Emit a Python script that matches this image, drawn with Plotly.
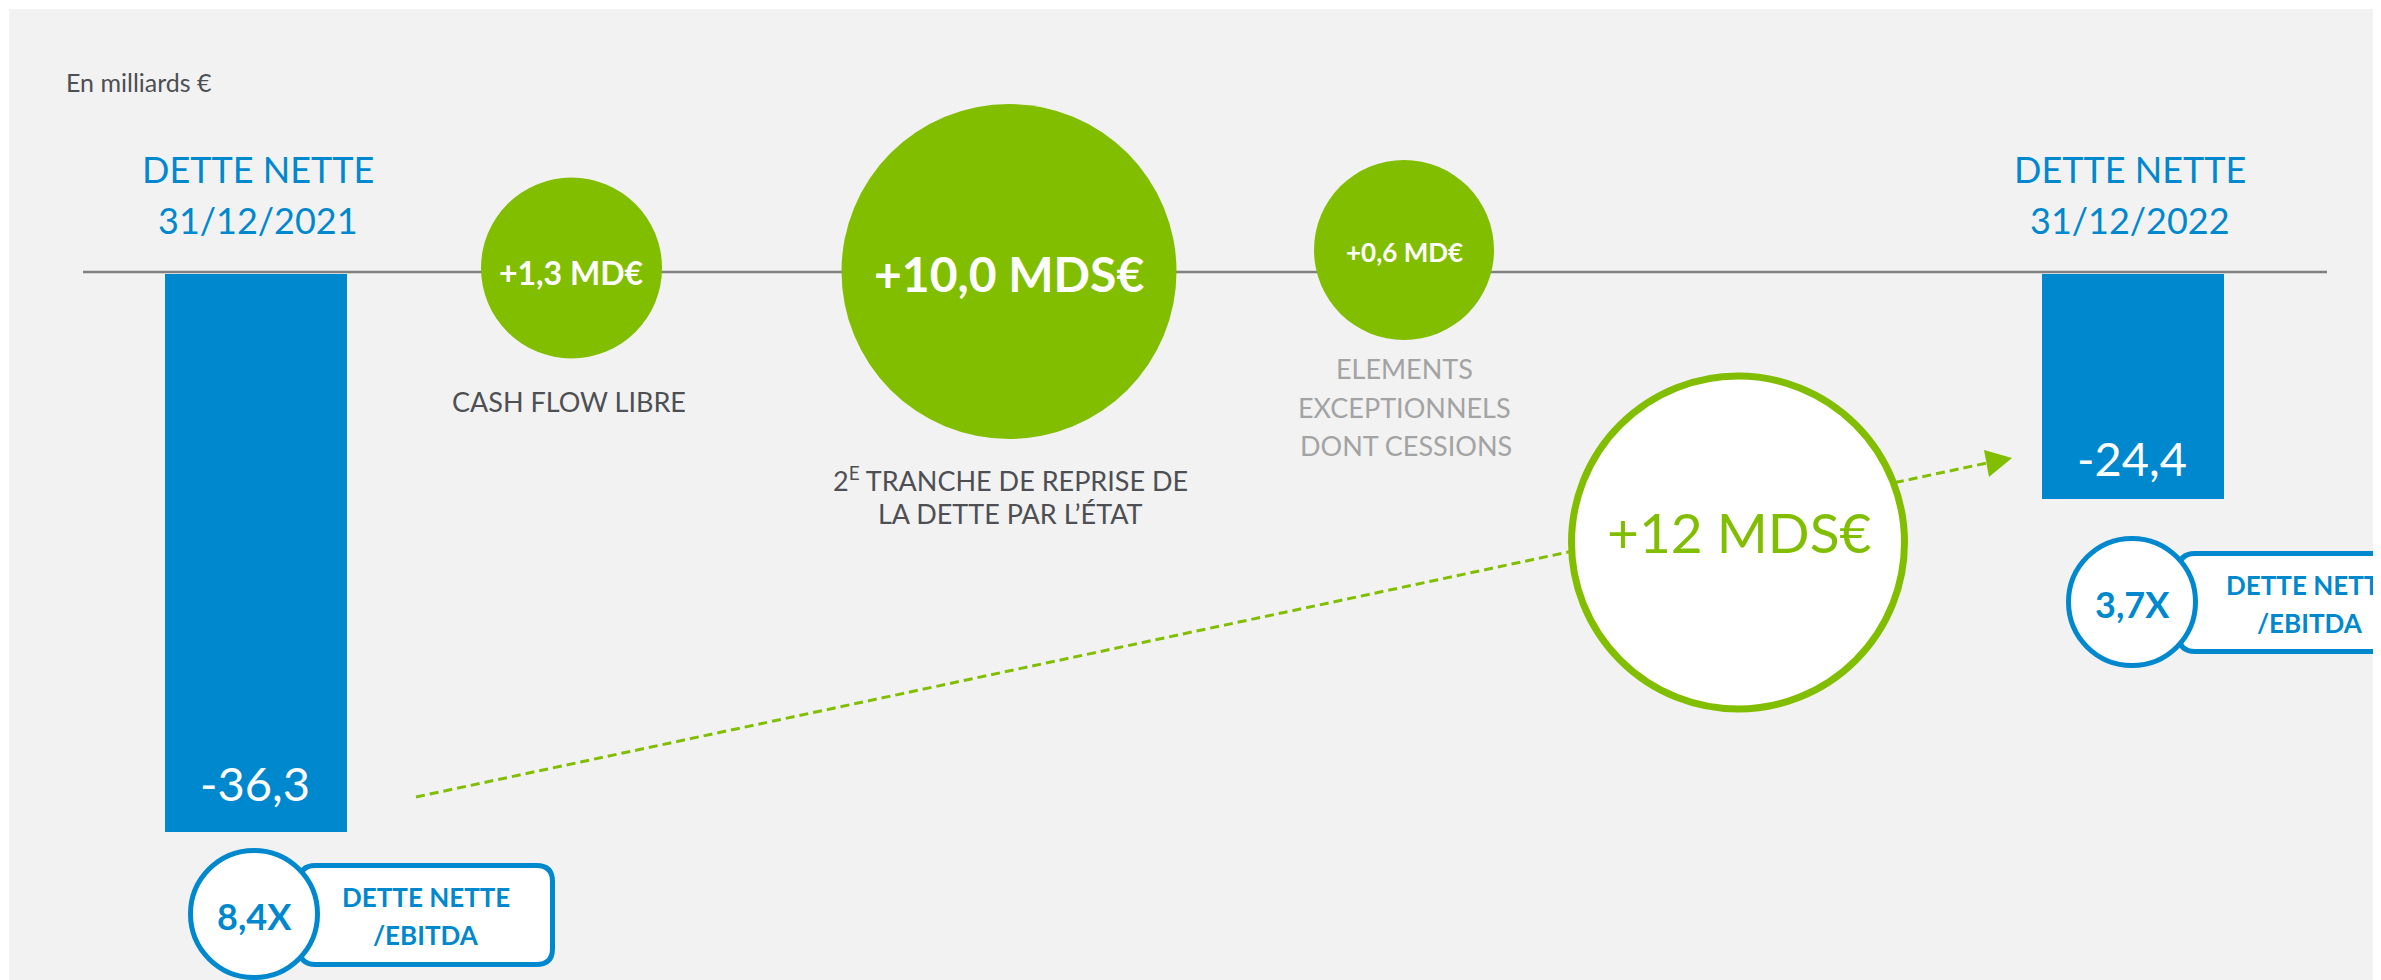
import plotly.graph_objects as go

# ---------------- data ----------------
unit_note = "En milliards €"
debt_title = "DETTE NETTE"
debt_dates = ["31/12/2021", "31/12/2022"]
net_debt = [-36.3, -24.4]                      # milliards €
flow_values = [1.3, 10.0, 0.6]                 # milliards €
flow_units = ["MD€", "MDS€", "MD€"]
flow_captions = [
    ["CASH FLOW LIBRE"],
    ["2<sup>E</sup> TRANCHE DE REPRISE DE", "LA DETTE PAR L’ÉTAT"],
    ["ELEMENTS", "EXCEPTIONNELS", "DONT CESSIONS"],
]
total_reduction = 12
total_unit = "MDS€"
ratio_values = [8.4, 3.7]
ratio_label = ["DETTE NETTE", "/EBITDA"]


def fr(v, d=1):
    return f"{v:.{d}f}".replace(".", ",")


# ---------------- style / layout ----------------
W, H = 2381, 980
PAGE_MARGIN = 8          # default body margin of the html page
BLUE = "#0088CE"
GREEN = "#82BE00"
DARK = "#4D4F53"
LIGHT = "#A3A3A3"
BG = "#F2F2F2"
FONT = "Lato"

bar_x = [256, 2133]
bar_w = 182
bar_label_y = [783, 458]
header_x = [258, 2130]
header_y, date_y = 168.5, 220

bub_x = [571.5, 1009, 1404]
bub_y = [268, 271.5, 250]
bub_size = [181, 335, 180]
bub_font = [32, 48, 26]
cap_pos = [[(569, 401)], [(1010, 479), (1010, 513)],
           [(1404, 368), (1404, 407), (1406, 445)]]
cap_col = [DARK, DARK, LIGHT]

tot_x, tot_y, tot_size = 1738, 542.5, 333

badge_c = [(254, 914), (2132, 602)]
badge_rect = [(299.5, 552.5, 865.5, 964.5), (2179, 2420, 553.5, 651.5)]
badge_text_x = [426, 2310]

fig = go.Figure()

# bars (each on its own scale, as in the original infographic)
fig.add_trace(go.Bar(x=[bar_x[0]], y=[net_debt[0]], width=bar_w,
                     marker=dict(color=BLUE, line=dict(width=0)),
                     yaxis="y", hoverinfo="skip"))
fig.add_trace(go.Bar(x=[bar_x[1]], y=[net_debt[1]], width=bar_w,
                     marker=dict(color=BLUE, line=dict(width=0)),
                     yaxis="y2", hoverinfo="skip"))

# green bubbles
fig.add_trace(go.Scatter(x=bub_x, y=bub_y, mode="markers", yaxis="y3",
                         marker=dict(size=bub_size, color=GREEN, opacity=1,
                                     line=dict(width=0)),
                         hoverinfo="skip"))
# total circle
fig.add_trace(go.Scatter(x=[tot_x], y=[tot_y], mode="markers", yaxis="y3",
                         marker=dict(size=tot_size, color="white", opacity=1,
                                     line=dict(width=7, color=GREEN)),
                         hoverinfo="skip"))

shapes = []
# baseline
shapes.append(dict(type="line", xref="x", yref="y3", x0=83, x1=2327,
                   y0=272, y1=272, line=dict(color="#808080", width=2.5),
                   layer="below"))
# dashed arrow line
shapes.append(dict(type="line", xref="x", yref="y3", x0=416, y0=797,
                   x1=1987, y1=463, line=dict(color=GREEN, width=3,
                                              dash="9px,5px"),
                   layer="below"))
shapes.append(dict(type="path", xref="x", yref="y3",
                   path="M 1984 450 L 2012 458 L 1989 477 Z",
                   fillcolor=GREEN, line=dict(width=0)))


def rounded(x0, x1, y0, y1, r):
    return (f"M {x0+r} {y0} L {x1-r} {y0} Q {x1} {y0} {x1} {y0+r} "
            f"L {x1} {y1-r} Q {x1} {y1} {x1-r} {y1} L {x0+r} {y1} "
            f"Q {x0} {y1} {x0} {y1-r} L {x0} {y0+r} Q {x0} {y0} {x0+r} {y0} Z")


for (cx, cy), (rx0, rx1, ry0, ry1) in zip(badge_c, badge_rect):
    shapes.append(dict(type="path", xref="x", yref="y3",
                       path=rounded(rx0, rx1, ry0, ry1, 16),
                       fillcolor="white", line=dict(color=BLUE, width=5)))
    r = 63.5
    shapes.append(dict(type="circle", xref="x", yref="y3",
                       x0=cx - r, x1=cx + r, y0=cy - r, y1=cy + r,
                       fillcolor="white", line=dict(color=BLUE, width=5)))

ann = []


def txt(x, y, s, size, color, bold=False, xanchor="center"):
    ann.append(dict(x=x, y=y, xref="x", yref="y3", text=(f"<b>{s}</b>" if bold else s),
                    showarrow=False, xanchor=xanchor, yanchor="middle",
                    font=dict(family=FONT, size=size, color=color)))


txt(64, 82, unit_note, 25, DARK, xanchor="left")
for i in range(2):
    txt(header_x[i], header_y, debt_title, 36, BLUE)
    txt(header_x[i], date_y, debt_dates[i], 36, BLUE)
    txt(bar_x[i] - 1, bar_label_y[i], fr(net_debt[i]), 47, "white")

for i, v in enumerate(flow_values):
    txt(bub_x[i], bub_y[i] + (4 if i == 0 else 1.5), f"+{fr(v)} {flow_units[i]}",
        bub_font[i], "white", bold=True)
    for line, (px, py) in zip(flow_captions[i], cap_pos[i]):
        txt(px, py, line, 27, cap_col[i])

txt(tot_x + 1, 532, f"+{total_reduction} {total_unit}", 55, GREEN)

for i, v in enumerate(ratio_values):
    cx, cy = badge_c[i]
    txt(cx, cy + 2, f"{fr(v)}X", 36, BLUE, bold=True)
    txt(badge_text_x[i], cy - 17, ratio_label[0], 26, BLUE, bold=True)
    txt(badge_text_x[i], cy + 21, ratio_label[1], 26, BLUE, bold=True)

hidden = dict(visible=False, showgrid=False, zeroline=False, fixedrange=True)
GRAY_X0, GRAY_Y0 = 9, 9   # page pixel where the grey panel starts
fig.update_layout(
    width=W - PAGE_MARGIN, height=H - PAGE_MARGIN,
    margin=dict(l=GRAY_X0 - PAGE_MARGIN, r=0, t=GRAY_Y0 - PAGE_MARGIN, b=0, pad=0),
    paper_bgcolor="white", plot_bgcolor=BG,
    showlegend=False, bargap=0,
    xaxis=dict(range=[GRAY_X0, W], **hidden),
    yaxis=dict(range=[-45.95, 17.248], **hidden),
    yaxis2=dict(range=[-76.56, 28.74], overlaying="y", anchor="x", **hidden),
    yaxis3=dict(range=[H, GRAY_Y0], overlaying="y", anchor="x", **hidden),
    shapes=shapes, annotations=ann,
    font=dict(family=FONT),
)

fig.write_html("out.html")
